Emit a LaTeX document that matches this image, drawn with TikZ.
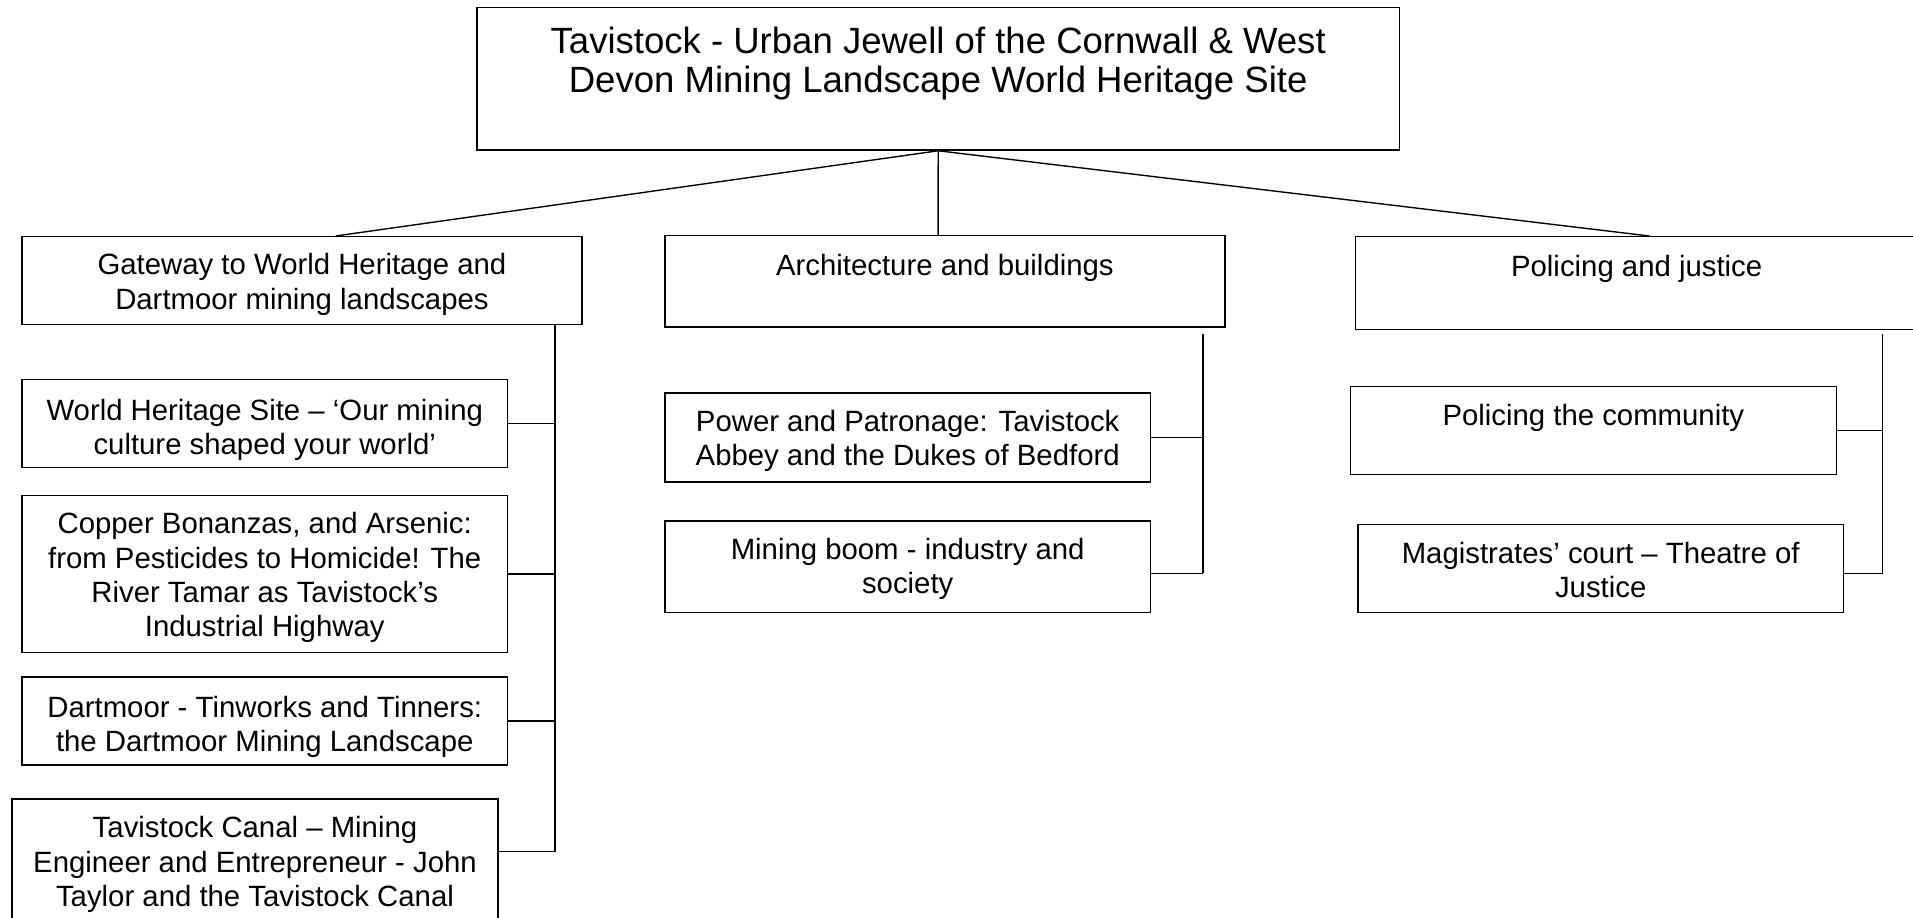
\documentclass[tikz,border=0pt]{standalone}
\usepackage{fontspec}
\setmainfont{Liberation Sans}
\newcommand{\lift}[1]{\rule{0pt}{#1}}
\begin{document}
\begin{tikzpicture}[x=0.025cm,y=-0.025cm,line width=0.8pt,
  box/.style={draw,align=center,inner sep=0pt,font=\fontsize{17.1}{20}\selectfont},
  wide/.style={box,minimum width=11.475cm},
  slim/.style={box,minimum width=9.95cm}]
  \useasboundingbox (0,0) rectangle (1568,752);
  \node[box,minimum width=18.9cm,minimum height=2.925cm,font=\fontsize{21.3}{23}\selectfont] (a) at (769,64.5)
    {\lift{23.3pt}Tavistock - Urban Jewell of the Cornwall \& West\\Devon Mining Landscape World Heritage Site\\ \strut};
  \node[wide,minimum height=1.8cm] (b) at (247.5,230) {\lift{16.8pt}Gateway to World Heritage and\\Dartmoor mining landscapes};
  \node[wide,minimum height=1.875cm] (c) at (774.5,230.5) {\lift{19.6pt}Architecture and buildings\\ \strut};
  \node[box,minimum width=11.525cm,minimum height=1.9cm] (d) at (1341.5,232) {\lift{18.2pt}Policing and justice\\ \strut};
  \node[slim,minimum height=1.8cm] (e) at (217,347) {\lift{20.3pt}World Heritage Site – ‘Our mining\\culture shaped your world’};
  \node[slim,minimum height=3.225cm] (f) at (217,470.5)
    {\lift{16.8pt}Copper Bonanzas, and Arsenic:\\from Pesticides to Homicide! The\\River Tamar as Tavistock’s\\Industrial Highway};
  \node[slim,minimum height=1.8cm] (g) at (217,591) {\lift{19.6pt}Dartmoor - Tinworks and Tinners:\\the Dartmoor Mining Landscape};
  \node[slim,minimum height=2.55cm] (h) at (209,706)
    {\lift{16pt}Tavistock Canal – Mining\\Engineer and Entrepreneur - John\\Taylor and the Tavistock Canal};
  \node[slim,minimum height=1.825cm] (i) at (744,358.5) {\lift{16.8pt}Power and Patronage: Tavistock\\Abbey and the Dukes of Bedford};
  \node[slim,minimum height=1.875cm] (j) at (744,464.5) {\lift{15.3pt}Mining boom - industry and\\society};
  \node[slim,minimum height=1.8cm] (k) at (1306,353) {\lift{19.6pt}Policing the community\\ \strut};
  \node[slim,minimum height=1.8cm] (l) at (1312,466) {\lift{13.9pt}Magistrates’ court – Theatre of\\Justice};
  \coordinate (bb) at (455,698);
  \coordinate (cb) at (986,470);
  \coordinate (db) at (1543,470);
  \draw (a.south) -- ([xshift=0.69cm]b.north);
  \draw (a.south) -- ([xshift=-0.14cm]c.north);
  \draw (a.south) -- ([xshift=0.26cm]d.north);
  \draw (b.south -| bb) -- (bb);
  \draw (e.east) -- (e.east -| bb);
  \draw (f.east) -- (f.east -| bb);
  \draw (g.east) -- (g.east -| bb);
  \draw (h.east |- bb) -- (bb);
  \draw ([yshift=-0.125cm]c.south -| cb) -- (cb);
  \draw (i.east) -- (i.east -| cb);
  \draw (j.east |- cb) -- (cb);
  \draw ([yshift=-0.075cm]d.south -| db) -- (db);
  \draw (k.east) -- (k.east -| db);
  \draw (l.east |- db) -- (db);
\end{tikzpicture}
\end{document}
